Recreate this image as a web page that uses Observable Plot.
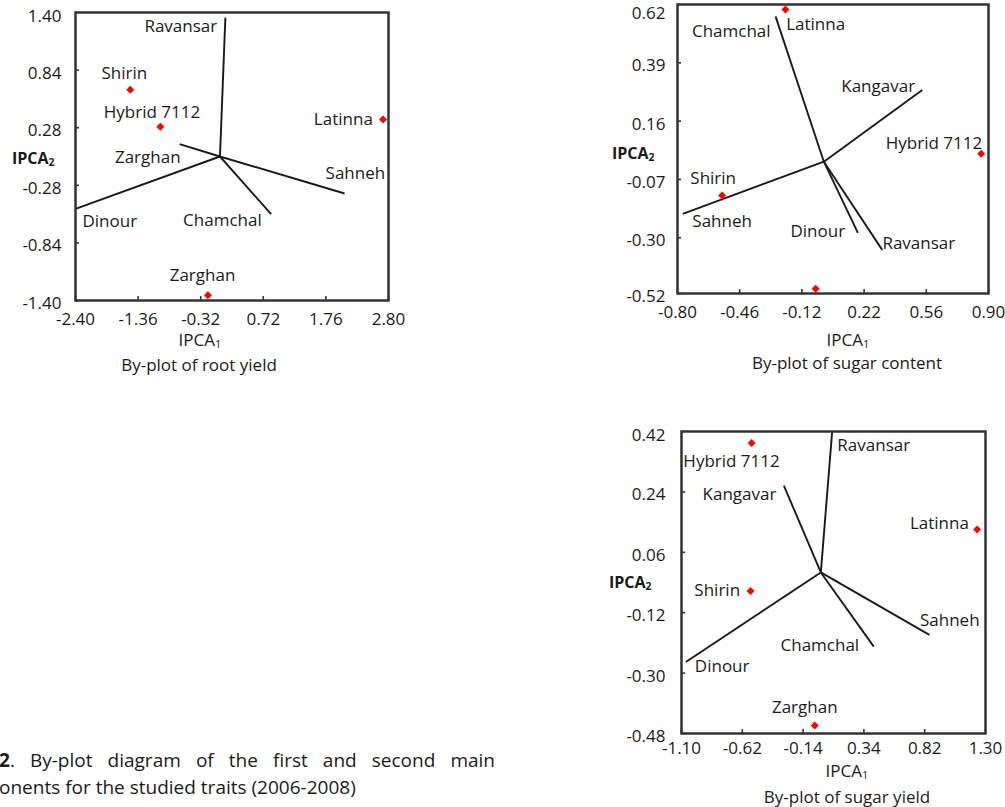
<!DOCTYPE html>
<html><head><meta charset="utf-8">
<script src="https://cdn.jsdelivr.net/npm/d3@7"></script>
<script src="https://cdn.jsdelivr.net/npm/@observablehq/plot@0.6"></script>
<style>
html,body{margin:0;padding:0;background:#fff;}
#root{position:relative;width:1005px;height:807px;overflow:hidden;font-family:"Open Sans",sans-serif;color:#1a1a1a;}
.abs{position:absolute;white-space:nowrap;line-height:1;}
.c{transform:translate(-50%,-50%);}
.l{transform:translateY(-50%);}
.lab{font-size:17px;}
.ylab{font-size:16px;font-weight:bold;}
sub{font-size:0.65em;vertical-align:-0.2em;line-height:0;}
.cap{font-size:19px;}
</style></head><body><div id="root"></div>
<script>
// ---------- Panel 1: root yield ----------
const p1XTicks = [-2.40, -1.36, -0.32, 0.72, 1.76, 2.80];
const p1XTickLabels = ["-2.40", "-1.36", "-0.32", "0.72", "1.76", "2.80"];
const p1YTicks = [1.40, 0.84, 0.28, -0.28, -0.84, -1.40];
const p1YTickLabels = ["1.40", "0.84", "0.28", "-0.28", "-0.84", "-1.40"];
const p1EnvNames = ["Ravansar", "Zarghan", "Sahneh", "Chamchal", "Dinour"];
const p1EnvX = [0.09, -0.67, 2.07, 0.85, -2.40];
const p1EnvY = [1.35, 0.12, -0.36, -0.56, -0.51];
const p1EnvLabelX = [-0.65, -1.20, 2.25, 0.04, -1.83];
const p1EnvLabelY = [1.26, -0.01, -0.17, -0.62, -0.63];
const p1GenNames = ["Shirin", "Hybrid 7112", "Latinna", "Zarghan"];
const p1GenX = [-1.49, -0.99, 2.71, -0.20];
const p1GenY = [0.65, 0.29, 0.36, -1.35];
const p1GenLabelX = [-1.59, -1.13, 2.05, -0.29];
const p1GenLabelY = [0.81, 0.43, 0.36, -1.16];

// ---------- Panel 2: sugar content ----------
const p2XTicks = [-0.80, -0.46, -0.12, 0.22, 0.56, 0.90];
const p2XTickLabels = ["-0.80", "-0.46", "-0.12", "0.22", "0.56", "0.90"];
const p2YTicks = [0.62, 0.39, 0.16, -0.07, -0.30, -0.52];
const p2YTickLabels = ["0.62", "0.39", "0.16", "-0.07", "-0.30", "-0.52"];
const p2EnvNames = ["Chamchal", "Kangavar", "Sahneh", "Dinour", "Ravansar"];
const p2EnvX = [-0.264, 0.538, -0.771, 0.186, 0.319];
const p2EnvY = [0.573, 0.283, -0.206, -0.281, -0.348];
const p2EnvLabelX = [-0.506, 0.297, -0.556, -0.033, 0.519];
const p2EnvLabelY = [0.515, 0.298, -0.235, -0.274, -0.324];
const p2GenNames = ["Latinna", "Hybrid 7112", "Shirin", ""];
const p2GenX = [-0.210, 0.860, -0.556, -0.045];
const p2GenY = [0.600, 0.031, -0.133, -0.501];
const p2GenLabelX = [-0.045, 0.602, -0.605, -0.045];
const p2GenLabelY = [0.541, 0.073, -0.068, -0.501];

// ---------- Panel 3: sugar yield ----------
const p3XTicks = [-1.10, -0.62, -0.14, 0.34, 0.82, 1.30];
const p3XTickLabels = ["-1.10", "-0.62", "-0.14", "0.34", "0.82", "1.30"];
const p3YTicks = [0.42, 0.24, 0.06, -0.12, -0.30, -0.48];
const p3YTickLabels = ["0.42", "0.24", "0.06", "-0.12", "-0.30", "-0.48"];
const p3EnvNames = ["Ravansar", "Kangavar", "Sahneh", "Chamchal", "Dinour"];
const p3EnvX = [0.089, -0.292, 0.857, 0.418, -1.066];
const p3EnvY = [0.418, 0.259, -0.186, -0.221, -0.267];
const p3EnvLabelX = [0.418, -0.642, 1.018, -0.008, -0.779];
const p3EnvLabelY = [0.378, 0.232, -0.143, -0.218, -0.280];
const p3GenNames = ["Hybrid 7112", "Latinna", "Shirin", "Zarghan"];
const p3GenX = [-0.547, 1.234, -0.555, -0.048];
const p3GenY = [0.386, 0.128, -0.055, -0.456];
const p3GenLabelX = [-0.705, 0.936, -0.818, -0.127];
const p3GenLabelY = [0.331, 0.145, -0.054, -0.403];

const root = document.getElementById("root");

function panel(o) {
  const envs = o.envNames.map((n, i) => ({name: n, x: o.envX[i], y: o.envY[i], lx: o.envLX[i], ly: o.envLY[i]}));
  const gens = o.genNames.map((n, i) => ({name: n, x: o.genX[i], y: o.genY[i], lx: o.genLX[i], ly: o.genLY[i]}));
  const fx = d => o.xTickLabels[o.xTicks.indexOf(d)];
  const fy = d => o.yTickLabels[o.yTicks.indexOf(d)];
  const yTop = o.yTicks.slice(0, 1);
  const yRest = o.yTicks.slice(1);
  const chart = Plot.plot({
    width: o.width, height: o.height,
    marginLeft: o.m[0], marginRight: o.m[1], marginTop: o.m[2], marginBottom: o.m[3],
    x: {domain: o.xDomain},
    y: {domain: o.yDomain},
    style: {fontFamily: "'Open Sans', sans-serif", fontSize: "17px", color: "#1a1a1a", background: "transparent", overflow: "visible"},
    marks: [
      Plot.link(envs, {x1: () => 0, y1: () => 0, x2: "x", y2: "y", stroke: "#1a1a1a", strokeWidth: 1.9}),
      Plot.text(envs, {x: "lx", y: "ly", text: "name", fill: "#1a1a1a", fontSize: 17}),
      Plot.dot(gens, {x: "x", y: "y", symbol: "diamond2", r: 3.6, fill: "#ff0000", stroke: null}),
      Plot.text(gens, {x: "lx", y: "ly", text: "name", fill: "#1a1a1a", fontSize: 17}),
      Plot.axisX({ticks: o.xTicks, tickSize: -4, tickFormat: () => "", label: null, stroke: "#333", strokeWidth: 1.6}),
      Plot.axisX({ticks: o.xTicks, tickSize: 0, tickPadding: o.xPad, tickFormat: fx, label: null, fill: "#1a1a1a"}),
      Plot.axisY({ticks: o.yTicks, tickSize: -4, tickFormat: () => "", label: null, stroke: "#333", strokeWidth: 1.6}),
      Plot.axisY({ticks: yRest, tickSize: 0, tickPadding: o.yPad, tickFormat: fy, label: null, fill: "#1a1a1a", dy: 3}),
      Plot.axisY({ticks: yTop, tickSize: 0, tickPadding: o.yPad, tickFormat: fy, label: null, fill: "#1a1a1a", dy: o.topDy}),
      Plot.frame({stroke: "#333", strokeWidth: 2.5})
    ]
  });
  const wrap = document.createElement("div");
  wrap.className = "abs";
  wrap.style.left = o.left + "px";
  wrap.style.top = o.top + "px";
  wrap.appendChild(chart);
  root.appendChild(wrap);
}

panel({left: 0, top: 0, width: 400, height: 340, m: [75, 12, 12, 40],
  xDomain: [-2.40, 2.80], yDomain: [-1.40, 1.40],
  xTicks: p1XTicks, xTickLabels: p1XTickLabels, yTicks: p1YTicks, yTickLabels: p1YTickLabels,
  envNames: p1EnvNames, envX: p1EnvX, envY: p1EnvY, envLX: p1EnvLabelX, envLY: p1EnvLabelY,
  genNames: p1GenNames, genX: p1GenX, genY: p1GenY, genLX: p1GenLabelX, genLY: p1GenLabelY,
  xPad: 12, yPad: 14, topDy: 4});

panel({left: 580, top: 0, width: 425, height: 330, m: [97, 17, 4, 37],
  xDomain: [-0.80, 0.90], yDomain: [-0.52, 0.62],
  xTicks: p2XTicks, xTickLabels: p2XTickLabels, yTicks: p2YTicks, yTickLabels: p2YTickLabels,
  envNames: p2EnvNames, envX: p2EnvX, envY: p2EnvY, envLX: p2EnvLabelX, envLY: p2EnvLabelY,
  genNames: p2GenNames, genX: p2GenX, genY: p2GenY, genLX: p2GenLabelX, genLY: p2GenLabelY,
  xPad: 12, yPad: 12, topDy: 9});

panel({left: 580, top: 421, width: 425, height: 352, m: [101, 20, 10, 40],
  xDomain: [-1.10, 1.30], yDomain: [-0.48, 0.42],
  xTicks: p3XTicks, xTickLabels: p3XTickLabels, yTicks: p3YTicks, yTickLabels: p3YTickLabels,
  envNames: p3EnvNames, envX: p3EnvX, envY: p3EnvY, envLX: p3EnvLabelX, envLY: p3EnvLabelY,
  genNames: p3GenNames, genX: p3GenX, genY: p3GenY, genLX: p3GenLabelX, genLY: p3GenLabelY,
  xPad: 8, yPad: 16, topDy: 4});

function addText(html, cls, left, top) {
  const d = document.createElement("div");
  d.className = "abs " + cls;
  d.style.left = left + "px";
  d.style.top = top + "px";
  d.innerHTML = html;
  root.appendChild(d);
  return d;
}
// axis titles and panel captions
addText("IPCA<sub>2</sub>", "ylab l", 12, 158);
addText("IPCA<sub>1</sub>", "lab c", 200, 339);
addText("By-plot of root yield", "lab c", 199, 364);
addText("IPCA<sub>2</sub>", "ylab l", 612, 153);
addText("IPCA<sub>1</sub>", "lab c", 848, 339);
addText("By-plot of sugar content", "lab c", 847, 362);
addText("IPCA<sub>2</sub>", "ylab l", 609, 582);
addText("IPCA<sub>1</sub>", "lab c", 847, 770);
addText("By-plot of sugar yield", "lab c", 847, 796);

// figure caption (cropped at the left in the reference)
const cap1 = addText("<b>2</b>. By-plot diagram of the first and second main", "cap l", -1, 760);
cap1.style.width = "496px";
cap1.style.textAlign = "justify";
cap1.style.textAlignLast = "justify";
cap1.style.whiteSpace = "normal";
addText("onents for the studied traits (2006-2008)", "cap l", -1, 787);
</script></body></html>
